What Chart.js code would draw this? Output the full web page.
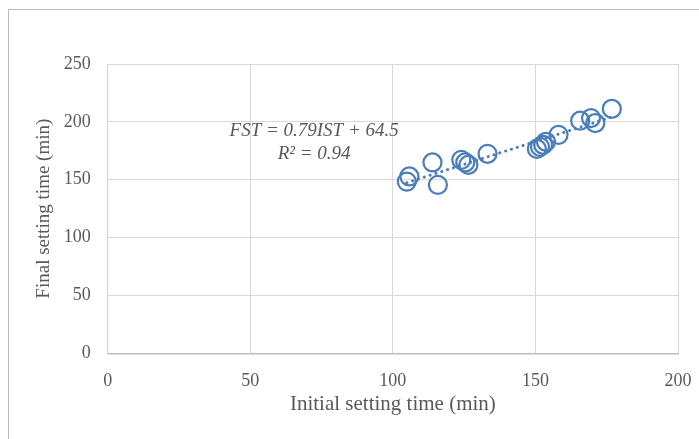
<!DOCTYPE html>
<html>
<head>
<meta charset="utf-8">
<script src="https://cdn.jsdelivr.net/npm/chart.js@4/dist/chart.umd.min.js"></script>
<style>
  html, body { margin: 0; padding: 0; background: #fff; }
  #wrap { position: relative; width: 699px; height: 439px; overflow: hidden; }
  #frame { position: absolute; left: 8px; top: 9px; width: 800px; height: 600px; border: 1.5px solid #bcbcbc; }
  canvas { position: absolute; left: 0; top: 0; }
</style>
</head>
<body>
<div id="wrap">
  <div id="frame"></div>
  <canvas id="scatter_chart" width="699" height="439"></canvas>
</div>
<script>
// initial vs final setting time (min)
const initialTime = [104.9, 105.8, 113.9, 115.8, 124.0, 125.4, 126.5, 133.2, 150.5, 151.6, 152.7, 153.7, 158.1, 165.7, 169.5, 171.0, 176.8];
const finalTime = [148.4, 152.8, 164.9, 145.6, 167.2, 164.9, 162.9, 172.4, 176.7, 178.4, 180.2, 182.8, 188.8, 201.0, 203.3, 199.0, 211.3];

// trendline ends
const trendX = [104.9, 176.8];
const trendY = [147.4, 204.2];

const xTicks = [0, 50, 100, 150, 200];
const yTicks = [0, 50, 100, 150, 200, 250];

const eqLines = ["FST = 0.79IST + 64.5", "R\u00b2 = 0.94"];
const eqPos = [[72.4, 192.5], [72.4, 172.6]]; // data coords of each text line

const blue = "#4a7ebb";
const grey = "#595959";
const serif = "'Liberation Serif', 'Times New Roman', serif";

const points = initialTime.map((x, i) => ({ x: x, y: finalTime[i] }));
const trend = trendX.map((x, i) => ({ x: x, y: trendY[i] }));

const equationText = {
  id: "equationText",
  afterDatasetsDraw(chart) {
    const ctx = chart.ctx;
    const xs = chart.scales.x;
    const ys = chart.scales.y;
    ctx.save();
    ctx.font = "italic 19px " + serif;
    ctx.fillStyle = grey;
    ctx.textAlign = "center";
    ctx.textBaseline = "middle";
    eqLines.forEach((t, i) => {
      ctx.fillText(t, xs.getPixelForValue(eqPos[i][0]), ys.getPixelForValue(eqPos[i][1]));
    });
    ctx.restore();
  },
};

const ctx = document.getElementById("scatter_chart").getContext("2d");
new Chart(ctx, {
  type: "scatter",
  data: {
    datasets: [
      {
        label: "Setting time",
        data: points,
        pointRadius: 9,
        pointHoverRadius: 9,
        pointBorderWidth: 2.25,
        pointBorderColor: blue,
        pointBackgroundColor: "rgba(0,0,0,0)",
        order: 2,
      },
      {
        type: "line",
        label: "Linear",
        data: trend,
        borderColor: blue,
        borderWidth: 3,
        borderDash: [0.1, 6],
        borderCapStyle: "round",
        pointRadius: 0,
        fill: false,
        order: 1,
      },
    ],
  },
  options: {
    responsive: false,
    animation: false,
    layout: { padding: { left: 0, top: 64, right: 21, bottom: 0 } },
    plugins: { legend: { display: false }, tooltip: { enabled: false } },
    scales: {
      x: {
        type: "linear",
        min: 0,
        max: 200,
        afterBuildTicks: (s) => { s.ticks = xTicks.map((v) => ({ value: v })); },
        afterFit: (s) => { s.height = 85.7; s.paddingLeft = 0; s.paddingRight = 0; },
        grid: { color: "#d9d9d9", lineWidth: 1, drawTicks: false },
        border: { color: "#bfbfbf", width: 1.5 },
        ticks: { color: grey, font: { family: serif, size: 18 }, padding: 17 },
        title: {
          display: true,
          text: "Initial setting time (min)",
          color: grey,
          font: { family: serif, size: 21 },
          padding: { top: 0, bottom: 22 },
        },
      },
      y: {
        type: "linear",
        min: 0,
        max: 250,
        afterBuildTicks: (s) => { s.ticks = yTicks.map((v) => ({ value: v })); },
        afterFit: (s) => { s.width = 107.7; s.paddingTop = 0; s.paddingBottom = 0; },
        grid: { color: "#d9d9d9", lineWidth: 1, drawTicks: false },
        border: { color: "#d0d0d0", width: 1 },
        ticks: { color: grey, font: { family: serif, size: 18 }, padding: 17 },
        title: {
          display: true,
          text: "Final setting time (min)",
          color: grey,
          font: { family: serif, size: 19 },
          padding: { top: 32.6, bottom: 0 },
        },
      },
    },
  },
  plugins: [equationText],
});
</script>
</body>
</html>
